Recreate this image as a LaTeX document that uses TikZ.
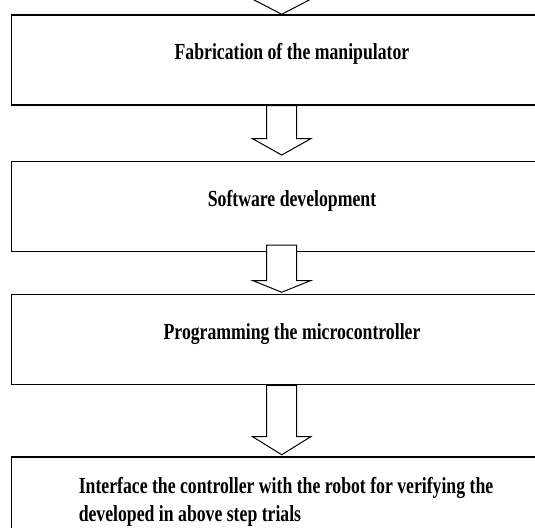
\documentclass[tikz,border=0pt]{standalone}
\usepackage{fontspec}
\setmainfont{Liberation Serif}[FakeStretch=0.77]
\usetikzlibrary{positioning,calc}

\tikzset{
  stagebox/.style={draw, line width=1.5pt, minimum width=561.4pt, minimum height=90pt,
    text height=17pt, text depth=17pt, font=\fontsize{23}{28.7}\selectfont\bfseries},
  hollowarrow/.style={draw, fill=white, line width=1pt, line join=miter}
}

% hollow block arrow: [head length]{from}{to}{start shift}{tip gap}
\newcommand{\flowarrow}[5][16pt]{%
  \draw[hollowarrow] ($(#2 -| spine)+(-15pt,#4)$) -- ($(#3 -| spine)+(-15pt,#5+#1)$)
    -- ++(-14pt,0) -- ($(#3 -| spine)+(0,#5)$) -- ($(#3 -| spine)+(29pt,#5+#1)$)
    -- ++(-14pt,0) -- ($(#2 -| spine)+(15pt,#4)$) -- cycle;
}

\begin{document}
\begin{tikzpicture}
  \useasboundingbox (0,0) rectangle (535pt,527pt);
  \clip (0,0) rectangle (535pt,527pt);

  %Define nodes
  \coordinate (spine) at (281.7pt,0);
  \coordinate (entry) at (281.7pt,547pt);
  \node[stagebox] (fab) at (292pt,467pt) {Fabrication of the manipulator};
  \node[stagebox, below=55pt of fab] (soft) {Software development};
  \node[stagebox, below=41.7pt of soft] (prog) {Programming the microcontroller};
  \node[stagebox, below=70.6pt of prog, xshift=-6pt, minimum width=549.4pt,
    text height=, text depth=, inner ysep=15pt, align=left] (iface)
    {Interface the controller with the robot for verifying the\\
    developed in above step trials};

  % Connect the nodes
  \flowarrow[15pt]{entry}{fab.north}{0pt}{0pt}
  \flowarrow[16.3pt]{fab.south}{soft.north}{0pt}{5.7pt}
  \flowarrow[11.7pt]{soft.south}{prog.north}{7pt}{1.7pt}
  \flowarrow[18pt]{prog.south}{iface.north}{0pt}{1.3pt}

\end{tikzpicture}
\end{document}
